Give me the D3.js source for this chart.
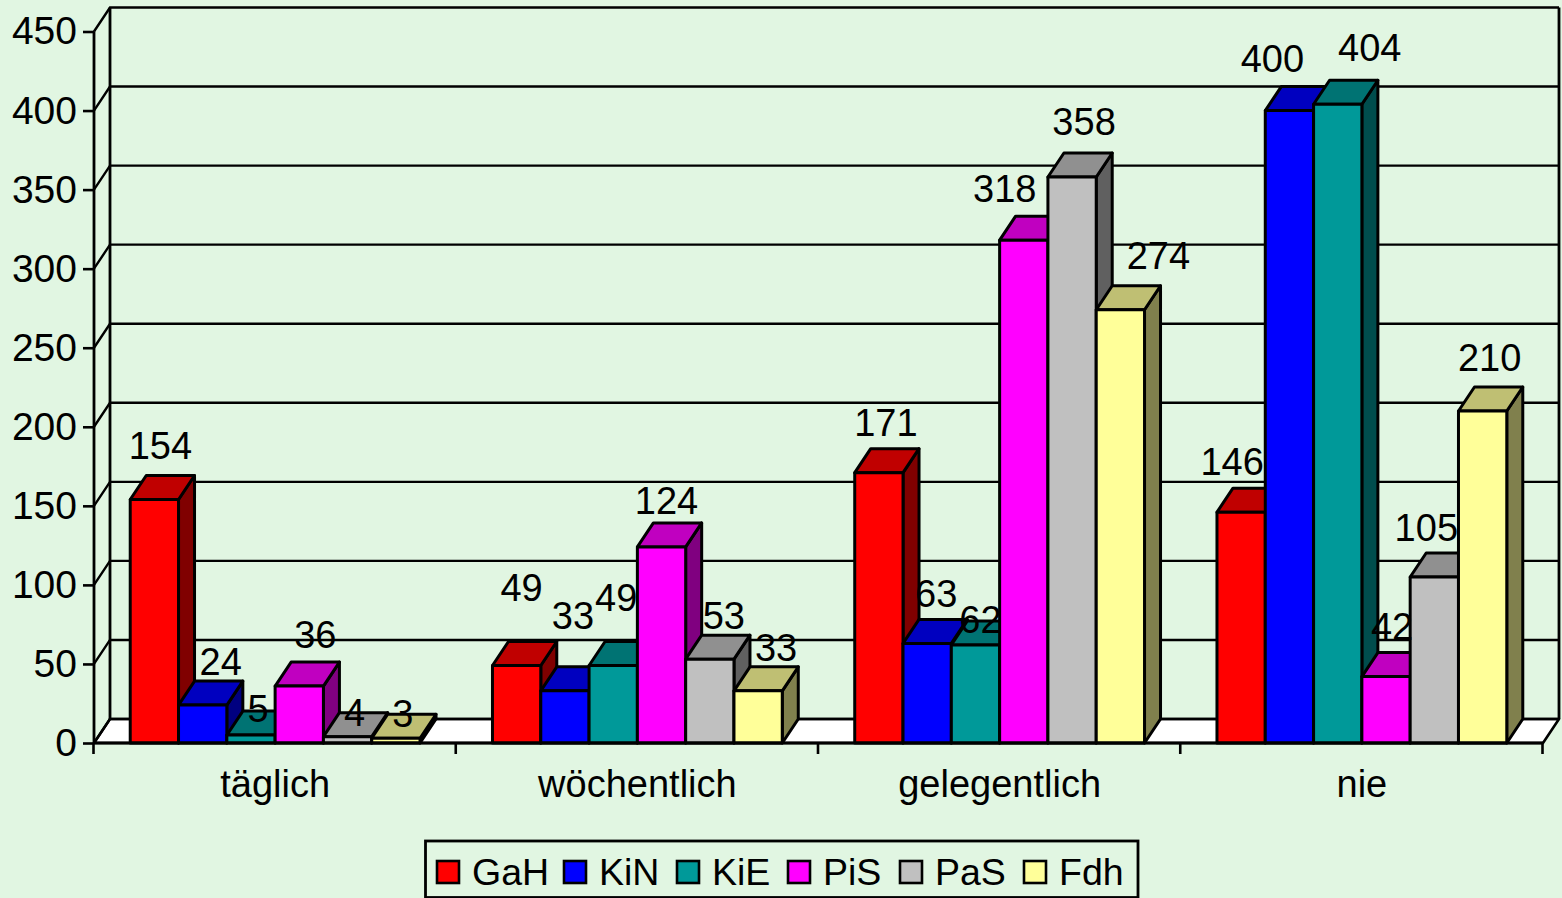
<!DOCTYPE html>
<html>
<head>
<meta charset="utf-8">
<script src="https://cdn.jsdelivr.net/npm/d3@7"></script>
<style>
html,body{margin:0;padding:0;background:#E1F6E2;overflow:hidden}
svg{display:block}
text{font-family:"Liberation Sans",Arial,sans-serif;fill:#000}
</style>
</head>
<body>
<svg id="c" width="1562" height="898"></svg>
<script>
const categories = ["täglich","wöchentlich","gelegentlich","nie"];
const seriesNames = ["GaH","KiN","KiE","PiS","PaS","Fdh"];
const GaH = [154,49,171,146];
const KiN = [24,33,63,400];
const KiE = [5,49,62,404];
const PiS = [36,124,318,42];
const PaS = [4,53,358,105];
const Fdh = [3,33,274,210];
const seriesValues = [GaH,KiN,KiE,PiS,PaS,Fdh];
const yTicks = [0,50,100,150,200,250,300,350,400,450];

const frontColors = ["#FF0000","#0000FF","#009999","#FF00FF","#C0C0C0","#FFFF99"];
const topColors   = ["#C00000","#0000C0","#007373","#C000C0","#909090","#BFBF73"];
const sideColors  = ["#800000","#000080","#004D4D","#800080","#606060","#80804D"];

// label displacement from the bar's front-top centre, [dx,dy], series by category
const labelNudge = [
  [[6,-41],[5,-65],[7,-37],[-9,-37]],
  [[18,-30],[8,-62],[9,-36],[-17,-39]],
  [[7,-13],[3,-55],[5,-12],[32,-43]],
  [[16,-38],[5,-33],[-19,-38],[6,-37]],
  [[7,-11],[14,-30],[12,-42],[-8,-36]],
  [[7,-11],[18,-30],[38,-41],[7,-40]]
];
const legendStarts = [437,564,677,788,900,1024];

const DX = 16, DY = -24;          // 3D depth offset
const LW = 3, FS = 38;
const svg = d3.select("#c");
const y = d3.scaleLinear().domain([0,450]).range([743,31.5]);
const x0 = d3.scaleBand().domain(categories).range([94,1543]);
const x1 = d3.scaleBand().domain(seriesNames).range([0,x0.bandwidth()]).paddingOuter(0.75);

const left = x0.range()[0], right = x0.range()[1];
const base = y(0), topY = y(450);
const poly = pts => pts.map(p=>p.join(",")).join(" ");

// floor
svg.append("polygon")
  .attr("points",poly([[left,base],[left+DX,base+DY],[right+DX,base+DY],[right,base]]))
  .attr("fill","#fff").attr("stroke","#000").attr("stroke-width",2.6).attr("stroke-linejoin","round");

// gridlines on back and side walls
const grid = svg.append("g").attr("fill","none").attr("stroke","#000").attr("stroke-width",2.4);
yTicks.forEach(v=>{
  grid.append("polyline")
    .attr("points",poly([[left,y(v)],[left+DX,y(v)+DY],[right+DX,y(v)+DY]]));
});
// wall edges
grid.append("line").attr("x1",left+DX).attr("x2",left+DX).attr("y1",topY+DY).attr("y2",base+DY).attr("stroke-width",2.8);
grid.append("line").attr("x1",right+DX).attr("x2",right+DX).attr("y1",topY+DY).attr("y2",base+DY).attr("stroke-width",2.8);

// y axis
const yAxis = svg.append("g").attr("transform",`translate(${left},0)`)
  .call(d3.axisLeft(y).tickValues(yTicks).tickSize(11).tickPadding(6));
yAxis.selectAll("text").attr("font-size",39).style("font-family",'"Liberation Sans",Arial,sans-serif');
yAxis.selectAll("line").attr("stroke","#000").attr("stroke-width",2.6);
yAxis.select(".domain").attr("stroke","#000").attr("stroke-width",2.8).attr("d",`M0,${topY}V${base}`);

// bars, left to right so that each one overlaps its neighbour's side
categories.forEach((c,ci)=>{
  seriesNames.forEach((s,si)=>{
    const v = seriesValues[si][ci];
    const xa = x0(c)+x1(s), xb = xa+x1.bandwidth(), yt = y(v);
    const g = svg.append("g").attr("stroke","#000").attr("stroke-width",LW).attr("stroke-linejoin","round");
    g.append("polygon").attr("fill",sideColors[si])
      .attr("points",poly([[xb,yt],[xb+DX,yt+DY],[xb+DX,base+DY],[xb,base]]));
    g.append("polygon").attr("fill",topColors[si])
      .attr("points",poly([[xa,yt],[xa+DX,yt+DY],[xb+DX,yt+DY],[xb,yt]]));
    g.append("rect").attr("fill",frontColors[si])
      .attr("x",xa).attr("y",yt).attr("width",xb-xa).attr("height",base-yt);
  });
});

// category axis
const xAxis = svg.append("g").attr("transform",`translate(0,${base})`)
  .call(d3.axisBottom(x0).tickSize(0).tickPadding(0));
xAxis.select(".domain").attr("stroke","#000").attr("stroke-width",3).attr("d",`M${left},0H${right}`);
xAxis.selectAll("text").attr("font-size",FS).attr("dy",0).attr("y",54)
  .style("font-family",'"Liberation Sans",Arial,sans-serif');
const edges = categories.map(c=>x0(c)).concat([right]);
xAxis.selectAll("line.edge").data(edges).enter().append("line").attr("class","edge")
  .attr("x1",d=>d-0.5).attr("x2",d=>d-0.5).attr("y1",0).attr("y2",11)
  .attr("stroke","#000").attr("stroke-width",2.6);

// data labels
const labels = svg.append("g").attr("text-anchor","middle").attr("font-size",FS);
categories.forEach((c,ci)=>{
  seriesNames.forEach((s,si)=>{
    const v = seriesValues[si][ci], n = labelNudge[si][ci];
    labels.append("text")
      .attr("x",x0(c)+x1(s)+x1.bandwidth()/2+n[0])
      .attr("y",y(v)+n[1])
      .text(v);
  });
});

// legend
const lg = svg.append("g");
lg.append("rect").attr("x",425.5).attr("y",841).attr("width",712.5).attr("height",56.5)
  .attr("fill","none").attr("stroke","#000").attr("stroke-width",2.8);
seriesNames.forEach((s,si)=>{
  const lx = legendStarts[si];
  lg.append("rect").attr("x",lx).attr("y",861).attr("width",22).attr("height",22)
    .attr("fill",frontColors[si]).attr("stroke","#000").attr("stroke-width",2.6);
  lg.append("text").attr("x",lx+35).attr("y",885).attr("font-size",37.5).text(s);
});
</script>
</body>
</html>
